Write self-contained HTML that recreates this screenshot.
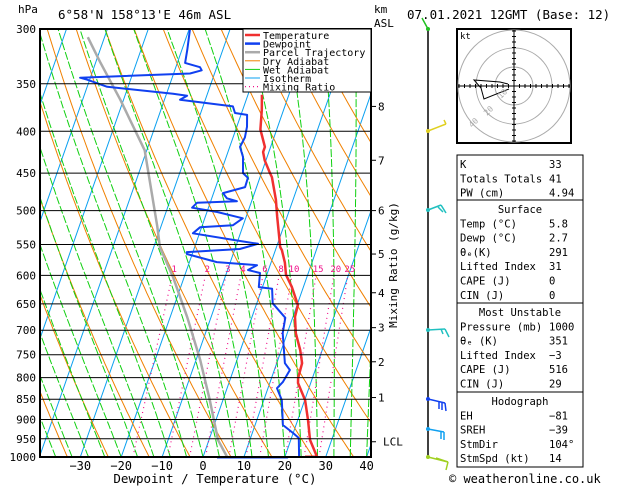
<!DOCTYPE html>
<html><head><meta charset="utf-8"><style>
body{margin:0;background:#fff;}
svg{display:block;font-family:"DejaVu Sans Mono","Liberation Mono",monospace;}
text{fill:#000;}
</style></head><body>
<svg id="c" width="629" height="486" viewBox="0 0 629 486">
<defs><clipPath id="pc"><rect x="40" y="29" width="331" height="428"/></clipPath></defs>
<g id="bg" clip-path="url(#pc)"></g>
<g id="series" clip-path="url(#pc)"></g>
<g id="axes"></g>
</svg>
<script>
const presT=[1000,953,901,852,812,801,768,740,706,674,652,620,599,579,559,554,509,485,455,450,434,424,418,398,377,361];
const tempT=[27.9,24.7,22.5,20.1,16.9,16.5,16.2,14.6,12.1,10.5,10.2,7.2,4.7,3.4,1.6,0.9,-2.4,-4.2,-7.1,-7.9,-10.3,-11.4,-11.4,-14.0,-15.3,-16.6];
const presD=[1000,1000,948,935,914,852,824,810,783,768,706,676,649,623,620,596,591,583,578,565,562,557,549,543,533,524,521,511,502,496,489,487,483,476,468,456,450,430,418,407,395,382,380,373,366,362,360,353,346,344,340,337,334,330,318,300];
const dewD=[20.8,23.5,21.8,20.0,16.8,14.4,12.2,13.1,13.8,12.0,8.9,8.2,3.9,2.5,-0.9,-1.8,-5.0,-3.2,-13.3,-21.3,-21.5,-8.8,-4.8,-11.2,-21.6,-20.4,-12.5,-10.7,-17.5,-24.0,-23.2,-13.6,-16.3,-17.7,-12.8,-12.9,-14.5,-15.9,-17.5,-17.1,-17.5,-18.5,-21.6,-22.7,-36.2,-34.8,-38.4,-55.1,-60.6,-62.5,-36.0,-33.4,-34.1,-38.1,-38.7,-39.8];
const presP=[1000,953,852,761,674,603,554,523,422,366,329,307];
const tempP=[5.9,2.2,-3.2,-9.0,-15.9,-22.7,-28.5,-30.9,-40.5,-50.8,-59.0,-64.1];
const isobars=[300,350,400,450,500,550,600,650,700,750,800,850,900,950,1000];
const xTicks=[-30,-20,-10,0,10,20,30,40];
const mixRatios=[1,2,3,4,6,8,10,15,20,25];
const kmLabels=["8","7","6","5","4","3","2","1"];
const kmPres=[373,434,500,565,630,695,765,846];
const lclPres=958;

const NS="http://www.w3.org/2000/svg";
function y(p){return 29+Math.log(p/300)/Math.log(1000/300)*428;}
function x(T,p){return 203+4.09*T+0.35*(457-y(p));}
function el(tag,at,parent){const e=document.createElementNS(NS,tag);for(const k in at)e.setAttribute(k,at[k]);(parent||document.getElementById('axes')).appendChild(e);return e;}
function txt(s,at,parent){const e=el('text',at,parent);e.textContent=s;return e;}
const bg=document.getElementById('bg'),ser=document.getElementById('series');
// isotherms
for(let T=-120;T<=50;T+=10){const l=el('line',{x1:x(T,1000),y1:457,x2:x(T,300),y2:29,stroke:'#0aa0f0','stroke-width':1},bg);

}
// dry adiabats
for(let th=220;th<=480;th+=10){let d='';for(let p=1000;p>=300;p-=10){const T=th*Math.pow(p/1000,0.286)-273.15;d+=(d?'L':'M')+x(T,p).toFixed(1)+','+y(p).toFixed(1);}
const l=el('path',{d:d,stroke:'#f08000',fill:'none','stroke-width':1},bg);

}
// wet adiabats
function es(T){return 6.112*Math.exp(17.67*T/(T+243.5));}
for(let tw=-40;tw<=40;tw+=4){let T=tw+273.15,d='';for(let p=1000;p>=300;p-=5){const Tc=T-273.15;d+=(d?'L':'M')+x(Tc,p).toFixed(1)+','+y(p).toFixed(1);
const rs=0.622*es(Tc)/(p-es(Tc));const dTdp=(287*T+2.5e6*rs)/(1004+2.5e6*2.5e6*rs*0.622/(287*T*T))/p;T-=dTdp*5;}
const l=el('path',{d:d,stroke:'#10d010',fill:'none','stroke-width':1,'stroke-dasharray':'8,2'},bg);

}
// mixing ratio
function tdw(w,p){const e=w*p/(622+w);const a=Math.log(e/6.112);return 243.5*a/(17.67-a);}
mixRatios.forEach(w=>{const l=el('line',{x1:x(tdw(w,1000),1000),y1:457,x2:x(tdw(w,600),600),y2:y(600),stroke:'#f0108a','stroke-width':1.2,'stroke-dasharray':'1,4'},bg);


const t=txt(String(w),{x:x(tdw(w,600),600)+2,y:272,'font-size':9,'text-anchor':'middle',style:'fill:#f0108a'});

});
// isobars
isobars.forEach(p=>{const l=el('line',{x1:40,y1:y(p),x2:371,y2:y(p),stroke:'#000','stroke-width':1});


const t=txt(String(p),{x:36,y:y(p)+4,'font-size':11,'text-anchor':'end'});

});
function line(P,T,col,w,name){let d='';P.forEach((p,i)=>{d+=(i?'L':'M')+x(T[i],p).toFixed(1)+','+y(p).toFixed(1);});
const l=el('path',{d:d,stroke:col,fill:'none','stroke-width':w,'stroke-linejoin':'round'},ser);

}
line(presP,tempP,'#aaa',2.5,'parcel-trajectory');
line(presT,tempT,'#f03030',2.5,'temperature-line');
line(presD,dewD,'#1040f0',2,'dewpoint-line');
// surface bars
{const l=el('line',{x1:217,y1:457.5,x2:x(20.8,1000),y2:457.5,stroke:'#1040f0','stroke-width':2});
const m=el('line',{x1:305,y1:456.5,x2:x(27.9,1000),y2:456.5,stroke:'#f03030','stroke-width':2});}
// frame
{const f=el('rect',{x:40,y:29,width:331,height:428,fill:'none',stroke:'#000','stroke-width':2});}
xTicks.forEach(T=>{const t=txt(String(T).replace('-','\u2212'),{x:x(T,1000),y:470,'font-size':12,'text-anchor':'middle'});

});
{const t=txt('Dewpoint / Temperature (\u00b0C)',{x:215,y:483,'font-size':12.5,'text-anchor':'middle'});}
// km axis
kmLabels.forEach((k,i)=>{const yy=y(kmPres[i]);el('line',{x1:371,y1:yy,x2:376,y2:yy,stroke:'#000'});
const t=txt(k,{x:378,y:yy+4,'font-size':11});});
{const yy=y(lclPres);el('line',{x1:371,y1:yy,x2:376,y2:yy,stroke:'#000'});const t=txt('LCL',{x:383,y:yy+4,'font-size':11});}
{const t=txt('Mixing Ratio (g/kg)',{x:0,y:0,'font-size':11,'text-anchor':'middle',transform:'translate(397,265) rotate(-90)'});}
// header
[['hPa',18,13,11,'start','units-label'],['6\u00b058\'N 158\u00b013\'E 46m ASL',58,19,12.5,'start','location-title'],['km',374,13,11,'start','km-label-top'],['ASL',374,27,11,'start','asl-label'],['07.01.2021 12GMT (Base: 12)',407,19,12.5,'start','date-title']].forEach(a=>{const t=txt(a[0],{x:a[1],y:a[2],'font-size':a[3],'text-anchor':a[4]});});
// legend
{const g=el('g',{});
el('rect',{x:243,y:29,width:128,height:63,fill:'#fff',stroke:'#000'},g);
[['Temperature','#f03030',2.5,''],['Dewpoint','#1040f0',2.5,''],['Parcel Trajectory','#aaa',2.5,''],['Dry Adiabat','#f08000',1,''],['Wet Adiabat','#10d010',1,''],['Isotherm','#0aa0f0',1,''],['Mixing Ratio','#f0108a',1.2,'1,3']].forEach((e,i)=>{const yy=35+i*8.6;
el('line',{x1:245,y1:yy,x2:260,y2:yy,stroke:e[1],'stroke-width':e[2],'stroke-dasharray':e[3]||'none'},g);
const t=txt(e[0],{x:263,y:yy+4,'font-size':10},g);});}
// wind barbs column
el('line',{x1:428,y1:29,x2:428,y2:457,stroke:'#000','stroke-width':1.5});
[[29,'#20c020',[[428,29,422,18]]],[131,'#e0d020',[[428,131,446,124],[446,124,444,120]]],[210,'#20c0c0',[[428,210,441,205],[441,205,446,213],[438,207,443,212]]],[330,'#20c0c0',[[428,330,445,329],[445,329,449,337],[441,329,443,334]]],[399,'#1040f0',[[428,399,445,403],[445,403,446,411],[442,403,442,410],[439,402,439,409]]],[429,'#10a0f0',[[428,429,444,432],[444,432,444,440],[441,432,441,439]]],[457,'#a0d020',[[428,457,448,462],[448,462,446,470],[436,458,448,462]]]].forEach(b=>{const g=el('g',{});
el('circle',{cx:428,cy:b[0],r:2,fill:b[1]},g);b[2].forEach(s=>el('line',{x1:s[0],y1:s[1],x2:s[2],y2:s[3],stroke:b[1],'stroke-width':1.5},g));});
// hodograph
{const g=el('g',{});
el('rect',{x:457,y:29,width:114,height:114,fill:'#fff',stroke:'#000','stroke-width':2},g);
[19,38,56].forEach(r=>el('circle',{cx:514,cy:86,r:r,fill:'none',stroke:'#aaa'},g));
el('line',{x1:458,y1:86,x2:570,y2:86,stroke:'#000'},g);el('line',{x1:514,y1:30,x2:514,y2:142,stroke:'#000'},g);
for(let i=-10;i<=10;i++){if(!i)continue;el('line',{x1:514+i*5.5,y1:84,x2:514+i*5.5,y2:88,stroke:'#000'},g);el('line',{x1:512,y1:86+i*5.5,x2:516,y2:86+i*5.5,stroke:'#000'},g);}
el('path',{d:'M509,89 L484,99 L481,88 L474,80 L500,82 L508,84',fill:'none',stroke:'#000'},g);
const t=txt('kt',{x:460,y:39,'font-size':9},g);
[['10',501,99],['20',487,116],['40',472,128]].forEach(a=>{const l=txt(a[0],{x:a[1],y:a[2],'font-size':8,transform:`rotate(-45 ${a[1]} ${a[2]})`,style:'fill:#aaa'},g);});}
// tables
function table(y0,h,title,rows,name){const g=el('g',{});
el('rect',{x:457,y:y0,width:126,height:h,fill:'#fff',stroke:'#000'},g);let yy=y0+13;
if(title){const t=txt(title,{x:520,y:yy,'font-size':10.5,'text-anchor':'middle'},g);yy+=14.3;}
rows.forEach(r=>{const a=txt(r[0],{x:460,y:yy,'font-size':10.5},g);
const b=txt(r[1],{x:549,y:yy,'font-size':10.5},g);yy+=14.3;});}
table(155,45,'',[['K','33'],['Totals Totals','41'],['PW (cm)','4.94']],'indices-table');
table(200,103,'Surface',[['Temp (\u00b0C)','5.8'],['Dewp (\u00b0C)','2.7'],['\u03b8\u2091(K)','291'],['Lifted Index','31'],['CAPE (J)','0'],['CIN (J)','0']],'surface-table');
table(303,89,'Most Unstable',[['Pressure (mb)','1000'],['\u03b8\u2091 (K)','351'],['Lifted Index','\u22123'],['CAPE (J)','516'],['CIN (J)','29']],'most-unstable-table');
table(392,75,'Hodograph',[['EH','\u221281'],['SREH','\u221239'],['StmDir','104\u00b0'],['StmSpd (kt)','14']],'hodograph-table');
{const t=txt('\u00a9 weatheronline.co.uk',{x:449,y:483,'font-size':12},undefined);}
</script>
</body></html>
